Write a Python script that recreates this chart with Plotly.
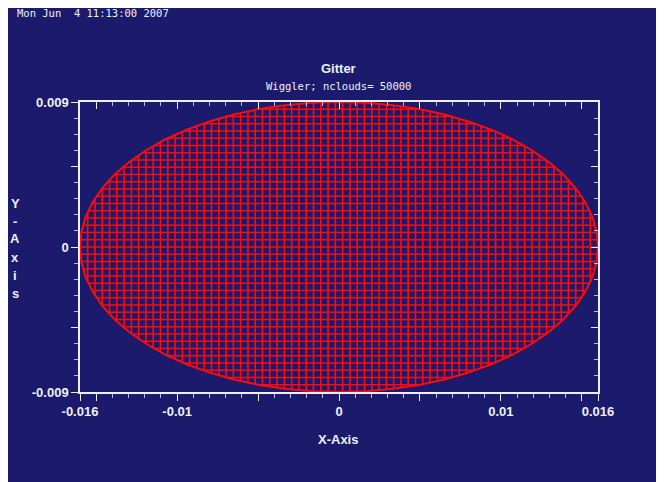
import numpy as np
from plotly import graph_objects as go

# ---- chart values ----
x_range = [-0.016, 0.016]
y_range = [-0.009, 0.009]
x_tick_vals = [-0.016, -0.01, 0, 0.01, 0.016]
x_tick_text = ["-0.016", "-0.01", "0", "0.01", "0.016"]
y_tick_vals = [-0.009, 0, 0.009]
y_tick_text = ["-0.009", "0", "0.009"]
x_mid_ticks = [-0.015, -0.005, 0.005, 0.015]
y_mid_ticks = [-0.005, 0.005]

ellipse_a = 0.016      # half width of the beam cloud
ellipse_b = 0.009      # half height
cell = 0.00045         # mesh ("Gitter") spacing

date_text = "Mon Jun  4 11:13:00 2007"
title_text = "Gitter"
subtitle_text = "Wiggler; nclouds= 50000"
y_title_letters = ["Y", "-", "A", "x", "i", "s"]

# page puts the figure 8px in from the window corner
OFF = 8
W, H = 664 - OFF, 482 - OFF
PX0, PX1, PY0, PY1 = 80, 598, 102, 392      # plot box in window pixels
L, R, T, B = PX0 - OFF, W - (PX1 - OFF), PY0 - OFF, H - (PY1 - OFF)
NAVY = "#1b1a6c"
RED = "#ff0a0a"
WHITE = "#f0f0f8"


def px(x):
    return (x - PX0) / (PX1 - PX0)


def py(y):
    return (PY1 - y) / (PY1 - PY0)


def mesh_segments():
    xs, ys = [], []
    n = int(ellipse_a / cell) + 1
    # vertical lines
    for k in range(-n, n):
        x = (k + 0.5) * cell
        if abs(x) >= ellipse_a:
            continue
        h = ellipse_b * np.sqrt(1 - (x / ellipse_a) ** 2)
        xs += [x, x, None]
        ys += [-h, h, None]
    m = int(ellipse_b / cell) + 1
    # horizontal lines
    for k in range(-m, m + 1):
        y = k * cell
        if abs(y) >= ellipse_b:
            continue
        w = ellipse_a * np.sqrt(1 - (y / ellipse_b) ** 2)
        xs += [-w, w, None]
        ys += [y, y, None]
    return xs, ys


mx, my = mesh_segments()
t = np.linspace(0, 2 * np.pi, 61)

fig = go.Figure()
fig.add_trace(go.Scatter(x=mx, y=my, mode="lines",
                         line=dict(color=RED, width=1.6), hoverinfo="skip"))
fig.add_trace(go.Scatter(x=ellipse_a * np.cos(t), y=ellipse_b * np.sin(t),
                         mode="lines", line=dict(color=RED, width=2),
                         hoverinfo="skip"))
# invisible trace to carry the mirrored (top / right) axes
fig.add_trace(go.Scatter(x=[None], y=[None], xaxis="x2", yaxis="y2",
                         showlegend=False))

tickfont = dict(family="Liberation Sans", size=13, color=WHITE, weight="bold")
minor = dict(dtick=0.001, tick0=0, ticklen=4, tickcolor="#b8b8d8", tickwidth=1)

fig.update_layout(
    width=W, height=H,
    margin=dict(l=L, r=R, t=T, b=B),
    paper_bgcolor=NAVY, plot_bgcolor=NAVY,
    showlegend=False,
    xaxis=dict(range=x_range, showgrid=False, zeroline=False,
               showline=True, linecolor=WHITE, linewidth=1.5,
               ticks="outside", ticklen=7, tickcolor=WHITE,
               tickmode="array",
               tickvals=x_tick_vals + x_mid_ticks,
               ticktext=x_tick_text + [""] * len(x_mid_ticks),
               tickfont=tickfont, minor=dict(ticks="outside", **minor)),
    yaxis=dict(range=y_range, showgrid=False, zeroline=False,
               showline=True, linecolor=WHITE, linewidth=1.5,
               ticks="outside", ticklen=7, tickcolor=WHITE,
               tickmode="array",
               tickvals=y_tick_vals + y_mid_ticks,
               ticktext=y_tick_text + [""] * len(y_mid_ticks),
               tickfont=tickfont, minor=dict(ticks="outside", **minor)),
    xaxis2=dict(range=x_range, overlaying="x", side="top", anchor="y2",
                showgrid=False, zeroline=False, showticklabels=False,
                showline=True, linecolor=WHITE, linewidth=1.5,
                ticks="inside", ticklen=7, tickcolor=WHITE,
                tickmode="array", tickvals=x_tick_vals + x_mid_ticks,
                minor=dict(ticks="inside", **minor)),
    yaxis2=dict(range=y_range, overlaying="y", side="right", anchor="x2",
                showgrid=False, zeroline=False, showticklabels=False,
                showline=True, linecolor=WHITE, linewidth=1.5,
                ticks="inside", ticklen=7, tickcolor=WHITE,
                tickmode="array", tickvals=y_tick_vals + y_mid_ticks,
                minor=dict(ticks="inside", **minor)),
)

mono = dict(family="DejaVu Sans Mono", size=10.5, color=WHITE)
fig.add_annotation(text=date_text, xref="paper", yref="paper",
                   x=px(15), y=py(13), xanchor="left", yanchor="middle",
                   showarrow=False, font=mono)
fig.add_annotation(text=title_text, xref="paper", yref="paper",
                   x=px(338), y=py(68), xanchor="center", yanchor="middle",
                   showarrow=False,
                   font=dict(family="Liberation Sans", size=13, color=WHITE,
                             weight="bold"))
fig.add_annotation(text=subtitle_text, xref="paper", yref="paper",
                   x=px(338), y=py(86), xanchor="center", yanchor="middle",
                   showarrow=False, font=mono)
fig.add_annotation(text="X-Axis", xref="paper", yref="paper",
                   x=px(338), y=py(440), xanchor="center", yanchor="middle",
                   showarrow=False, font=tickfont)
for i, ch in enumerate(y_title_letters):
    fig.add_annotation(text=ch, xref="paper", yref="paper",
                       x=px(15), y=py(203 + 18 * i), xanchor="center",
                       yanchor="middle", showarrow=False, font=tickfont)

fig.write_html("out.html")
